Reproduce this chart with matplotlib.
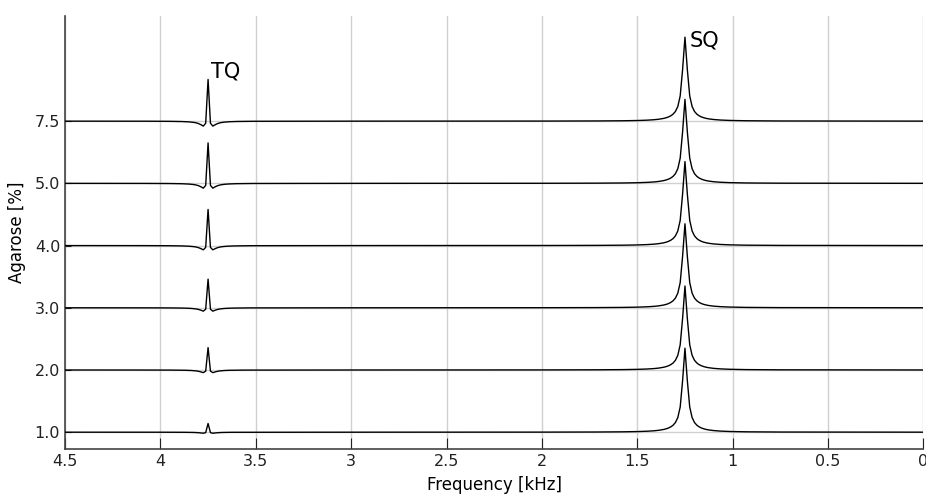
import matplotlib
matplotlib.use("Agg")
import matplotlib.pyplot as plt
import numpy as np

# agarose concentrations (one trace each, bottom to top)
agarose = ["1.0", "2.0", "3.0", "4.0", "5.0", "7.5"]
# peak heights (in units of row spacing)
sq_height = [1.35, 1.35, 1.35, 1.35, 1.35, 1.35]
tq_height = [0.14, 0.36, 0.46, 0.58, 0.65, 0.67]

sq_pos = 1.25   # kHz
tq_pos = 3.75   # kHz
sq_hwhm = 0.015
sq_wing_hwhm = 0.07
sq_wing_frac = 0.06
tq_hwhm = 0.006
tq_neg_hwhm = 0.025
tq_neg_frac = 0.28

xticks = [4.5, 4, 3.5, 3, 2.5, 2, 1.5, 1, 0.5, 0]
xticklabels = ["4.5", "4", "3.5", "3", "2.5", "2", "1.5", "1", "0.5", "0"]

freq = np.linspace(0, 4.5, 361)


def lorentz(x, x0, w):
    return 1.0 / (1.0 + ((x - x0) / w) ** 2)


fig = plt.figure(figsize=(9.26, 4.94), dpi=100)
ax = fig.add_axes([0.0702, 0.0911, 0.927, 0.8765])

for i, lab in enumerate(agarose):
    sq_raw = lorentz(freq, sq_pos, sq_hwhm) + sq_wing_frac * lorentz(freq, sq_pos, sq_wing_hwhm)
    sq = sq_height[i] * sq_raw / sq_raw.max()
    tq_raw = lorentz(freq, tq_pos, tq_hwhm) - tq_neg_frac * lorentz(freq, tq_pos, tq_neg_hwhm)
    tq = tq_height[i] * tq_raw / tq_raw.max()
    ax.plot(freq, i + sq + tq, color="black", lw=1.0, zorder=3)

ax.text(3.735, 5 + 0.64, "TQ", fontsize=15, ha="left", va="bottom")
ax.text(1.225, 5 + 1.13, "SQ", fontsize=15, ha="left", va="bottom")

ax.set_xlim(4.5, 0)
ax.set_ylim(-0.27, 6.69)
ax.set_xticks(xticks)
ax.set_xticklabels(xticklabels)
ax.set_yticks(range(len(agarose)))
ax.set_yticklabels(agarose)
ax.tick_params(direction="in", labelsize=11.5, colors="#222222", length=8)
ax.tick_params(axis="y", length=4)
ax.grid(True, color="#d0d0d0", lw=1.0, zorder=0)
for s in ["top", "right"]:
    ax.spines[s].set_visible(False)
for s in ["left", "bottom"]:
    ax.spines[s].set_color("#444444")
    ax.spines[s].set_linewidth(1.2)

ax.set_xlabel("Frequency [kHz]", fontsize=12, labelpad=5)
ax.set_ylabel("Agarose [%]", fontsize=12, labelpad=6)

fig.savefig("out.png", dpi=100)
